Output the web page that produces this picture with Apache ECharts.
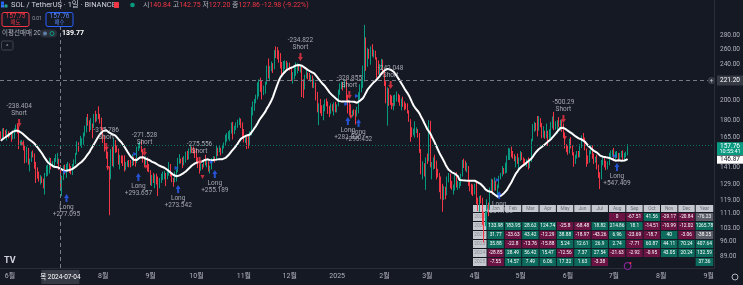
<!DOCTYPE html>
<html><head><meta charset="utf-8">
<script src="https://cdn.jsdelivr.net/npm/echarts@6/dist/echarts.min.js"></script>
<style>html,body{margin:0;padding:0;background:#151924;overflow:hidden}#c{width:743px;height:285px}</style>
</head><body><div id="c"></div>
<script>
// ---------------- DATA ----------------
const firstDate = '2024-05-26';
const axisEndDate = '2025-09-04';
// closes of the 20 days before the first visible candle (only used for the 20-day average)
const warmupCloses = [145,147,150,155,146,145,147,146,147,160,165,172,172,168,186,176,175,172,176,168.5];
const firstOpen = 168.5;
const closes = [
 164.5,170.5,167.5,166.0,169.0,166.0,
 167.5,164.0,168.0,171.5,172.5,171.0,160.0,160.0,160.5,158.0,146.0,154.0,144.5,146.0,151.0,150.5,145.0,137.5,136.5,133.0,133.5,131.5,127.5,136.0,138.0,140.0,146.0,142.0,143.5,146.5,
 147.0,147.5,140.84,127.86,134.0,141.5,137.5,141.0,141.0,139.0,138.5,142.5,145.0,151.0,159.0,158.5,161.0,161.0,166.0,174.0,181.0,178.0,173.0,176.5,173.5,184.0,183.0,185.0,183.0,180.0,172.0,
 163.0,155.0,151.5,141.0,133.5,151.0,144.0,161.5,154.5,154.0,144.0,148.0,146.0,143.5,141.0,142.0,145.0,144.5,144.0,145.5,145.0,144.5,155.5,157.5,158.0,153.5,146.0,145.0,145.5,142.0,138.5,
 131.0,134.5,131.5,135.0,130.5,127.0,132.0,135.0,135.5,136.0,133.5,136.5,143.0,136.0,132.0,131.0,135.0,138.0,145.5,147.0,146.5,144.0,145.5,151.0,148.5,153.0,155.0,154.5,154.0,149.5,
 146.5,142.5,139.5,143.5,141.5,145.0,143.5,144.0,139.5,140.0,146.5,147.5,146.5,155.0,153.5,155.5,151.5,157.0,158.5,165.0,165.5,167.0,170.0,175.0,169.0,173.5,176.5,178.0,181.0,176.0,166.0,
 163.5,164.5,161.0,159.0,167.5,188.0,194.0,199.0,203.5,213.0,221.5,212.0,210.5,212.0,217.0,237.5,225.0,236.0,238.0,237.5,257.0,256.5,253.5,253.0,237.0,233.5,240.5,241.0,238.0,242.0,
 236.0,225.0,226.5,234.5,236.0,238.5,235.5,236.5,218.0,214.5,226.0,228.5,228.0,224.5,225.0,216.5,217.5,201.5,191.5,193.0,190.5,185.5,193.0,198.5,197.0,188.5,186.5,194.5,190.5,195.0,189.5,
 194.0,208.0,216.0,218.0,214.5,219.5,202.5,196.5,190.0,187.5,187.5,187.0,186.5,189.5,206.5,212.5,215.5,224.5,255.0,252.0,257.0,250.5,256.5,254.0,254.5,249.0,236.5,234.5,236.5,240.0,232.0,
 218.0,203.5,209.5,200.0,199.5,192.5,197.0,204.0,204.0,201.5,196.0,200.0,196.5,195.5,195.0,188.5,180.0,168.5,168.0,170.0,171.0,171.5,168.0,155.0,137.0,141.5,137.5,148.0,
 147.0,178.5,142.0,143.0,146.5,141.5,138.5,135.5,126.5,125.5,124.5,126.0,122.5,133.0,135.0,129.5,126.5,126.5,133.5,128.0,129.0,129.5,135.0,144.5,144.0,140.0,141.5,131.0,125.5,125.0,124.5,
 127.0,117.5,116.5,120.0,119.5,106.0,105.5,106.5,117.5,114.0,125.5,131.0,126.0,130.0,125.5,127.5,134.0,135.0,140.0,139.0,140.0,149.0,151.5,155.0,152.0,149.0,146.5,146.5,146.0,147.5,
 151.5,147.5,146.0,143.0,146.0,145.5,145.5,162.0,171.5,176.0,172.5,172.0,181.0,177.0,166.0,170.0,167.0,169.5,167.0,169.0,174.5,180.0,173.5,177.0,178.5,175.5,178.5,171.5,166.0,159.0,155.5,
 153.0,161.5,156.5,151.0,145.0,148.5,152.5,150.5,158.5,165.5,163.5,155.5,146.5,145.5,152.0,155.5,149.0,146.5,146.5,141.5,134.5,133.5,144.5,145.5,143.5,140.5,143.5,150.5,151.5,152.0,
 147.5,150.0,150.0,148.0,150.5,151.0,147.5,150.5,150.5,157.76
];
const highs = [
 170.0,172.5,173.0,171.0,172.0,170.0,
 168.5,168.0,170.5,172.5,176.0,176.5,174.5,162.0,162.5,162.0,158.5,157.0,156.0,147.5,153.0,154.0,151.5,145.0,141.0,138.0,135.5,134.5,133.0,137.0,142.5,143.0,148.5,148.0,145.5,148.0,
 151.0,152.0,147.5,142.75,135.0,142.5,143.0,143.5,145.0,144.0,142.0,143.5,147.0,152.0,161.5,160.5,166.0,164.0,169.0,175.0,183.0,186.0,180.0,182.0,177.0,186.0,189.0,186.0,193.5,186.0,182.5,
 173.5,166.0,157.0,153.0,141.5,155.0,157.0,163.5,162.5,158.0,155.5,150.5,150.0,150.0,150.0,145.0,146.0,146.5,146.5,151.0,149.0,148.0,157.0,160.0,161.0,162.0,155.0,149.0,149.5,148.5,143.5,
 139.0,135.5,137.0,136.0,136.5,134.5,133.5,136.5,138.0,138.5,137.0,138.5,145.0,143.5,137.0,133.5,138.0,139.5,148.0,151.0,147.5,148.5,149.5,153.0,153.5,155.5,158.0,157.0,157.0,155.0,
 155.0,148.5,144.0,144.5,143.5,146.0,150.5,146.5,145.5,142.5,148.0,149.5,149.0,157.5,156.0,157.5,156.0,158.5,160.5,167.0,168.5,170.0,171.0,178.0,178.5,175.0,178.0,180.5,182.5,181.5,178.0,
 172.0,167.0,165.5,166.0,170.0,193.0,198.5,201.0,205.5,219.0,222.5,224.5,221.0,215.5,220.0,239.0,248.0,238.5,244.0,242.0,259.0,264.0,263.0,258.5,255.0,243.5,244.5,245.5,245.0,243.0,
 242.5,237.5,231.0,238.0,243.0,242.0,240.5,240.0,237.5,222.5,228.0,234.0,230.5,230.0,227.5,227.0,223.5,219.0,208.5,196.5,201.0,194.5,195.5,200.5,201.5,198.5,194.0,196.5,195.5,197.5,198.0,
 195.5,211.0,218.0,220.0,219.0,222.5,222.5,205.5,199.5,195.5,189.5,190.5,190.0,193.0,208.0,217.0,222.0,239.0,295.0,276.5,262.0,260.5,264.0,267.0,259.5,258.0,249.5,245.5,241.0,247.5,246.5,
 234.0,220.5,213.5,212.5,205.5,204.5,205.0,205.5,209.0,206.5,205.0,201.5,203.5,198.5,196.5,196.5,189.5,181.0,173.5,172.5,179.0,173.5,172.0,168.5,155.0,145.5,144.0,148.5,
 151.5,180.0,179.5,145.0,148.5,150.5,146.0,140.0,137.0,134.5,129.5,128.0,127.5,134.5,137.0,136.5,131.5,129.0,135.5,137.5,131.5,131.0,136.5,146.5,147.5,146.0,144.5,142.0,131.5,129.5,129.0,
 129.5,131.0,120.5,121.5,122.0,120.5,112.0,112.5,119.5,117.5,127.0,133.0,132.5,134.0,131.5,129.0,135.0,137.0,142.0,140.5,144.5,150.0,156.0,155.5,157.0,153.5,151.0,149.5,151.5,148.5,
 153.5,152.5,148.5,147.5,147.0,148.5,147.5,163.5,176.5,178.5,177.5,184.0,184.0,182.0,177.5,174.5,170.5,177.0,170.5,172.0,178.5,183.5,188.0,179.0,180.0,183.0,180.5,180.0,177.0,169.0,159.0,
 158.0,163.5,165.0,158.0,152.5,150.5,153.5,153.5,159.0,166.5,168.5,164.5,155.5,150.0,154.0,158.0,158.0,151.5,149.0,150.5,143.0,137.5,146.5,148.5,148.5,146.0,145.5,152.0,154.0,154.5,
 156.0,153.0,153.5,152.0,152.0,153.5,154.0,152.0,153.0,159.0
];
const lows = [
 163.5,164.0,165.0,164.5,162.0,164.0,
 165.0,161.0,163.0,163.5,169.0,168.0,155.0,158.0,158.0,154.0,144.0,144.5,143.0,138.0,145.0,148.5,140.0,130.0,133.0,131.0,129.0,130.0,126.5,122.5,134.5,135.0,136.5,139.5,141.0,140.5,
 145.0,143.5,139.0,127.2,121.5,132.0,136.0,133.5,139.0,137.0,136.0,135.5,141.5,143.5,150.5,153.0,157.5,156.0,158.5,165.5,169.0,175.0,169.5,171.0,164.0,173.0,178.0,179.0,181.0,177.0,171.0,
 160.0,153.0,147.5,139.0,110.0,132.5,142.0,141.0,152.0,152.5,143.0,139.5,144.0,142.0,138.0,139.0,141.5,141.0,141.0,142.0,142.5,141.5,144.0,153.5,155.5,152.5,144.5,141.0,143.0,138.0,137.5,
 128.5,128.0,130.0,126.5,129.0,121.5,126.5,130.0,132.0,132.5,128.0,132.5,135.0,134.5,130.5,127.5,130.5,131.0,137.5,143.5,144.0,140.5,142.5,144.5,146.5,147.0,151.5,152.0,151.5,148.0,
 144.0,140.5,136.5,138.5,139.5,141.0,142.5,141.0,138.0,136.5,139.5,145.5,144.5,146.0,149.5,152.5,150.0,151.5,155.5,157.5,161.0,163.0,161.5,168.0,163.0,167.5,171.0,173.0,175.5,173.0,164.5,
 160.5,160.0,155.0,155.5,158.5,166.5,184.5,189.0,196.5,200.5,203.5,208.5,200.5,205.0,206.5,216.5,223.5,220.5,232.0,230.0,234.5,248.5,247.0,242.5,235.5,225.5,229.5,234.5,232.5,234.5,
 233.0,220.5,217.5,222.5,226.5,229.5,232.5,230.5,203.0,202.0,211.0,223.5,222.5,221.0,219.5,213.0,212.5,199.5,187.5,175.5,186.5,184.0,180.0,188.5,193.5,186.0,183.0,186.0,188.5,184.5,187.5,
 187.5,193.5,205.5,211.5,210.0,212.5,199.5,186.5,185.0,182.5,183.0,184.5,176.0,183.5,186.5,200.5,208.0,213.0,220.0,232.5,237.5,247.5,240.0,250.5,249.0,246.5,223.5,228.0,226.5,233.5,228.0,
 215.0,196.5,175.0,194.0,195.0,190.5,189.5,194.0,198.5,197.5,194.0,189.5,193.0,189.5,190.5,186.5,178.5,161.0,165.0,166.5,164.5,168.5,164.5,152.0,136.0,132.5,134.5,125.5,
 143.5,145.5,141.0,132.5,139.5,140.0,132.5,134.0,124.0,119.5,112.0,119.0,119.5,122.0,130.5,126.5,125.5,122.5,125.0,127.0,125.5,126.5,128.0,134.5,140.5,138.5,137.5,128.0,124.5,122.5,121.5,
 122.5,116.5,112.5,112.0,117.0,104.5,95.5,104.0,102.0,109.5,113.0,124.5,122.5,125.0,125.0,120.5,126.5,132.5,134.5,136.0,136.5,137.0,146.5,146.5,148.5,147.5,145.5,141.0,143.5,138.0,
 145.5,146.5,143.5,142.5,141.5,139.5,140.5,145.0,161.5,169.5,170.5,165.5,170.5,173.5,164.0,164.5,163.5,164.0,157.5,163.0,164.0,172.5,171.0,171.5,168.0,173.5,170.5,169.5,164.0,155.5,152.5,
 150.5,151.5,155.5,150.0,141.5,143.5,147.5,148.5,148.5,156.0,162.0,154.0,141.5,143.5,144.5,151.0,147.5,143.5,144.5,139.5,133.5,126.0,132.5,142.5,141.0,139.0,139.5,142.5,148.0,149.0,
 145.5,146.0,148.0,145.5,146.5,148.5,146.0,146.5,148.5,150.0
];
const maPeriod = 20;
const priceTicks = [280,260,240,200,180,165,141,129,119,111,103,96,89];
const crosshairDate = '2024-07-04';
const crosshairPrice = 221.20;
const lastPrice = 157.76;
const lastMa = 146.87;

const signalDates = ['2024-06-07','2024-07-08','2024-08-03','2024-08-24','2024-08-28','2024-09-19','2024-10-03','2024-10-13','2024-12-08','2025-01-08','2025-01-09','2025-01-15','2025-02-05','2025-04-17','2025-05-29','2025-07-03'];
const signalSides = ['S','L','S','L','S','L','S','L','S','L','S','L','S','L','S','L'];
const signalPrices = [177.5,120.3,156.7,134.1,152.7,126.1,145.8,136.3,249.8,179.3,205.2,177.5,216.1,122.2,181.2,141.3];
const signalPnl = ['-238.404','+277.095','-315.786','+293.657','-271.528','+273.542','-275.556','+255.189','-234.822','+281.835','-328.855','+295.452','-242.048','+301.738','-500.29','+547.409'];
const buyMarkDates = ['2024-07-07','2024-08-22','2024-09-18','2024-10-11','2025-01-07','2025-01-14','2025-04-16','2025-07-02'];
const buyMarkPrices = [137.7,151.1,140.6,145.0,195.8,204.1,132.1,149.6];
const sellMarkDates = ['2024-06-09','2024-08-04','2024-08-29','2024-10-05','2025-01-10','2025-02-06','2025-05-30'];
const sellMarkPrices = [159.2,140.6,141.3,134.1,183.1,194.8,164.2];

const tableMonths = ['Jan','Feb','Mar','Apr','May','Jun','Jul','Aug','Sep','Oct','Nov','Dec'];
const tableYears = ['2020','2021','2022','2023','2024','2025'];
const ret2020 = [null,null,null,null,null,null,null,0,-67.51,41.56,-29.17,-20.84];
const ret2021 = [133.98,183.95,28.62,124.74,-25.8,-68.48,18.82,214.86,18.1,-14.51,-10.99,-12.02];
const ret2022 = [31.77,-23.63,43.42,-12.29,38.88,-18.97,-43.26,6.96,-23.69,-18.7,40,-3.06];
const ret2023 = [35.88,-22.8,-13.76,-15.88,5.24,12.61,26.9,2.74,-7.71,60.87,44.11,70.24];
const ret2024 = [-28.85,28.49,56.42,15.47,-12.56,7.37,27.54,-21.63,-2.92,-0.95,43.05,20.24];
const ret2025 = [-7.55,14.57,7.49,6.06,17.32,1.63,-3.38,null,null,null,null,null];
const yearTotals = [-76.23,1265.78,-38.25,407.64,132.59,37.36];

// ---------------- BUILD ----------------
function dateSeq(a,b){const o=[];let d=new Date(a+'T00:00:00Z');const e=new Date(b+'T00:00:00Z');while(d<=e){o.push(d.toISOString().slice(0,10));d=new Date(d.getTime()+86400000);}return o;}
const dates = dateSeq(firstDate, axisEndDate);
const candleData = closes.map((c,i)=>[i===0?firstOpen:closes[i-1], c, lows[i], highs[i]]);
const allCloses = warmupCloses.concat(closes);
const maData = closes.map((c,i)=>{const j=i+warmupCloses.length;let s=0;for(let k=j-maPeriod+1;k<=j;k++)s+=allCloses[k];return +(s/maPeriod).toFixed(3);});

const shortData=[], longData=[];
signalDates.forEach((d,i)=>{const it={value:[d,signalPrices[i]],name:signalPnl[i]};(signalSides[i]==='S'?shortData:longData).push(it);});

const FONT = 'Roboto, "Noto Sans CJK KR", sans-serif';
const UP='#089981', DOWN='#f23645';
const chart = echarts.init(document.getElementById('c'), null, {renderer:'canvas'});
chart.setOption({
  animation:false,
  backgroundColor:'#151924',
  textStyle:{fontFamily:FONT},
  grid:{left:0,right:27,top:0,bottom:17,containLabel:false},
  xAxis:{type:'category',data:dates,boundaryGap:true,
    axisLine:{show:true,lineStyle:{color:'#2a2e39'}},axisTick:{show:false},splitLine:{show:false},
    axisLabel:{color:'#b2b5be',fontSize:7,margin:5,
      interval:(i,v)=>v.slice(8)==='01' && v!=='2024-07-01',
      formatter:v=>{const m=v.slice(5,7);return m==='01'?v.slice(0,4):(+m)+'월';}}},
  yAxis:{type:'log',position:'right',min:83.7,max:335.7,
    axisLine:{show:true,lineStyle:{color:'#2a2e39'}},axisTick:{show:false},splitLine:{show:false},
    axisLabel:{color:'#b2b5be',fontSize:6.5,margin:6,customValues:priceTicks,formatter:v=>Number(v).toFixed(2)}},
  series:[
    {type:'candlestick',data:candleData,barWidth:1,z:3,
      itemStyle:{color:UP,color0:DOWN,borderColor:UP,borderColor0:DOWN,borderWidth:1},
      markLine:{silent:true,symbol:'none',label:{show:false},animation:false,
        data:[
          {yAxis:crosshairPrice,lineStyle:{color:'#787b86',type:[4,3],width:1}},
          {xAxis:crosshairDate,lineStyle:{color:'#787b86',type:[4,3],width:1}},
          {yAxis:lastPrice,lineStyle:{color:'#0b6e60',type:[1,2],width:1}}
        ]}},
    {type:'line',data:maData,showSymbol:false,symbol:'none',z:4,lineStyle:{color:'#ffffff',width:2},itemStyle:{color:'#fff'}},
    {type:'scatter',data:shortData,z:6,symbol:'path://M3,0 L7,0 L7,5 L10,5 L5,10 L0,5 L3,5 Z',symbolSize:[5,8],itemStyle:{color:DOWN},
      label:{show:true,position:'top',distance:2,color:'#c8cbd2',fontSize:6.5,lineHeight:7,formatter:p=>p.name+'\nShort'}},
    {type:'scatter',data:longData,z:6,symbol:'path://M5,0 L10,5 L7,5 L7,10 L3,10 L3,5 L0,5 Z',symbolSize:[5,8],itemStyle:{color:'#2962ff'},
      label:{show:true,position:'bottom',distance:2,color:'#c8cbd2',fontSize:6.5,lineHeight:7,formatter:p=>'Long\n'+p.name}},
    {type:'scatter',data:buyMarkDates.map((d,i)=>[d,buyMarkPrices[i]]),z:5,symbol:'triangle',symbolRotate:-90,symbolSize:4,itemStyle:{color:'#2962ff'}},
    {type:'scatter',data:sellMarkDates.map((d,i)=>[d,sellMarkPrices[i]]),z:5,symbol:'triangle',symbolRotate:180,symbolSize:4,itemStyle:{color:DOWN}}
  ]
});

// ---------------- OVERLAYS (text, table, axis boxes) ----------------
const py = v => chart.convertToPixel({yAxisIndex:0}, v);
const px = v => chart.convertToPixel({xAxisIndex:0}, v);
const G = [];
function txt(x,y,t,o){G.push(Object.assign({type:'text',z:20,style:Object.assign({x:x,y:y,text:t,fill:'#d1d4dc',font:'7px '+FONT,textAlign:'left',textVerticalAlign:'middle'},o||{})}));}
function rect(x,y,w,h,fill,o){G.push({type:'rect',z:(o&&o.z)||20,shape:{x:x,y:y,width:w,height:h,r:(o&&o.r)||0},style:Object.assign({fill:fill},(o&&o.style)||{})});}

// header
rect(1,1.5,3,3,'#2962ff',{r:0.5}); rect(4.5,4.5,3,3,'#26a69a',{r:0.5}); rect(1,4.5,3,3,'#3179f5',{r:0.5});
txt(11,5,'SOL / TetherUS · 1일 · BINANCE',{font:'7.5px '+FONT,fill:'#d1d4dc'});
rect(114,2,5,6,'#f23645',{r:0.5});
G.push({type:'circle',z:20,shape:{cx:132.5,cy:5,r:2.3},style:{fill:UP}});
G.push({type:'text',z:20,style:{x:143,y:5,textVerticalAlign:'middle',font:'7px '+FONT,
  text:'{g|시}{r|140.84} {g|고}{r|142.75} {g|저}{r|127.20} {g|종}{r|127.86} {r|-12.98 (-9.22%)}',
  rich:{g:{fill:'#b2b5be',font:'7px '+FONT},r:{fill:'#f23645',font:'7px '+FONT}}}});
// buy / sell boxes
rect(2,12.5,27,14,'#151924',{r:2,style:{stroke:'#f23645',lineWidth:1}});
txt(15.5,16.3,'157.75',{fill:'#f23645',font:'6.5px '+FONT,textAlign:'center'});
txt(15.5,22.3,'매도',{fill:'#f23645',font:'5.5px '+FONT,textAlign:'center'});
txt(37,18.5,'0.01',{fill:'#9598a1',font:'5px '+FONT,textAlign:'center'});
rect(46,12.5,27,14,'#151924',{r:2,style:{stroke:'#2962ff',lineWidth:1}});
txt(59.5,16.3,'157.76',{fill:'#5b8cff',font:'6.5px '+FONT,textAlign:'center'});
txt(59.5,22.3,'매수',{fill:'#5b8cff',font:'5.5px '+FONT,textAlign:'center'});
// indicator legend
txt(2,33.3,'이평선매매 20',{fill:'#b2b5be',font:'6.5px '+FONT});
rect(40,29.5,17,8,'#2a2e39',{r:4});
G.push({type:'circle',z:21,shape:{cx:45,cy:33.5,r:2},style:{fill:'#5d7fa8'}});
G.push({type:'circle',z:21,shape:{cx:52,cy:33.5,r:2},style:{fill:'none',stroke:UP,lineWidth:1}});
txt(62,33.3,'139.77',{fill:'#ffffff',font:'bold 7px '+FONT});
rect(1.5,41,11.5,9,'#151924',{r:1.5,style:{stroke:'#434651',lineWidth:1}});
txt(7.2,46.5,'^',{fill:'#b2b5be',font:'6px '+FONT,textAlign:'center'});
// logo
txt(4,261,'TV',{fill:'#d1d4dc',font:'bold 9px '+FONT});

// right axis boxes
const yc = py(crosshairPrice);
rect(717,yc-5,26,10,'#363a45');
txt(730,yc,crosshairPrice.toFixed(2),{fill:'#ffffff',font:'6.5px '+FONT,textAlign:'center'});
G.push({type:'circle',z:20,shape:{cx:711.5,cy:yc,r:3.6},style:{fill:'#363a45'}});
txt(711.5,yc,'+',{fill:'#d1d4dc',font:'6px '+FONT,textAlign:'center'});
const yl = py(lastPrice);
rect(717,yl-3.5,26,13,UP);
txt(730,yl+0.5,lastPrice.toFixed(2),{fill:'#ffffff',font:'6.5px '+FONT,textAlign:'center'});
txt(730,yl+6.2,'10:55:41',{fill:'#ffffff',font:'5.5px '+FONT,textAlign:'center'});
rect(717,yl+10,26,8,'#ffffff');
txt(730,yl+14,lastMa.toFixed(2),{fill:'#131722',font:'6.5px '+FONT,textAlign:'center'});
// crosshair time label
const xc = px(crosshairDate);
rect(xc-19,270,38,14,'#363a45');
txt(xc,277,'목 2024-07-04',{fill:'#ffffff',font:'6.5px '+FONT,textAlign:'center'});
// gear
G.push({type:'circle',z:20,shape:{cx:735,cy:277,r:3},style:{fill:'none',stroke:'#b2b5be',lineWidth:1}});
// event mark at last candle
const xl = px(dates[closes.length-1]);
G.push({type:'circle',z:20,shape:{cx:xl,cy:266,r:3.5},style:{fill:'#151924',stroke:'#9c27b0',lineWidth:1}});
G.push({type:'circle',z:21,shape:{cx:xl+2.8,cy:263,r:1},style:{fill:'#f23645'}});

// monthly return table
const rows=[ret2020,ret2021,ret2022,ret2023,ret2024,ret2025];
const T={x:473,y:205,yw:14.5,mw:17.35,tw:18.5,hh:8,rh:9};
const GREEN='#0c6b5c', MAROON='#6b1444', HEAD='#c5c8cf', GREY='#5d606b';
function cell(x,y,w,h,fill,text,color){
  G.push({type:'rect',z:1,shape:{x:x,y:y,width:w-1,height:h-1},style:{fill:fill}});
  if(text!==null) G.push({type:'text',z:1,style:{x:x+(w-1)/2,y:y+(h-1)/2,text:text,fill:color,font:'4.8px '+FONT,textAlign:'center',textVerticalAlign:'middle'}});
}
cell(T.x,T.y,T.yw,T.hh,HEAD,'','#5d606b');
tableMonths.forEach((m,j)=>cell(T.x+T.yw+j*T.mw,T.y,T.mw,T.hh,HEAD,m,'#6a6d78'));
cell(T.x+T.yw+12*T.mw,T.y,T.tw,T.hh,HEAD,'Year','#6a6d78');
rows.forEach((r,i)=>{
  const y=T.y+T.hh+i*T.rh;
  cell(T.x,y,T.yw,T.rh,HEAD,tableYears[i],'#8a8d96');
  r.forEach((v,j)=>{ if(v===null) return; cell(T.x+T.yw+j*T.mw,y,T.mw,T.rh,v>0?GREEN:MAROON,String(v),'#ffffff');});
  const t=yearTotals[i];
  cell(T.x+T.yw+12*T.mw,y,T.tw,T.rh,t>0?GREEN:GREY,String(t),'#ffffff');
});

chart.setOption({graphic:{elements:G}});
</script>
</body></html>
